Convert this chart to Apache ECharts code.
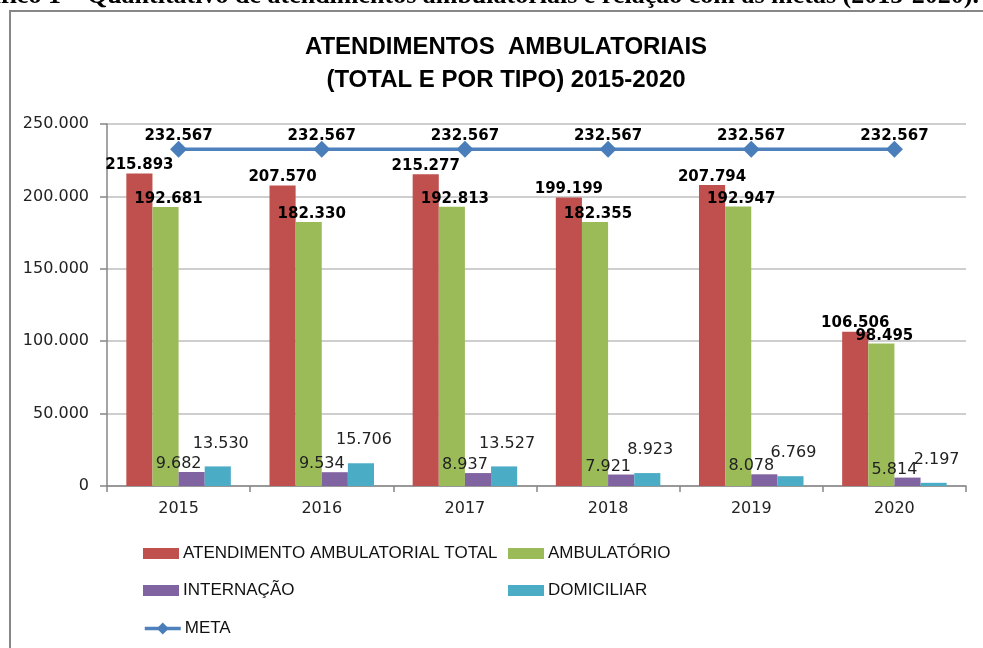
<!DOCTYPE html>
<html>
<head>
<meta charset="utf-8">
<script src="https://cdn.jsdelivr.net/npm/echarts@6/dist/echarts.min.js"></script>
<style>
html,body{margin:0;padding:0;background:#fff;}
#chart{width:983px;height:648px;}
</style>
</head>
<body>
<div id="chart"></div>
<script>
const categories = ['2015', '2016', '2017', '2018', '2019', '2020'];
const totalValues = [215893, 207570, 215277, 199199, 207794, 106506];
const ambulatorioValues = [192681, 182330, 192813, 182355, 192947, 98495];
const internacaoValues = [9682, 9534, 8937, 7921, 8078, 5814];
const domiciliarValues = [13530, 15706, 13527, 8923, 6769, 2197];
const metaValues = [232567, 232567, 232567, 232567, 232567, 232567];
const seriesNames = ['ATENDIMENTO AMBULATORIAL TOTAL', 'AMBULATÓRIO', 'INTERNAÇÃO', 'DOMICILIAR', 'META'];
const titleText = 'ATENDIMENTOS  AMBULATORIAIS\n(TOTAL E POR TIPO) 2015-2020';
const captionText = 'Gráfico 1 – Quantitativo de atendimentos ambulatoriais e relação com as metas (2015-2020).';

function fmt(v) {
  return String(Math.round(v)).replace(/\B(?=(\d{3})+(?!\d))/g, '.');
}

const numFont = 'DejaVu Sans';
const chart = echarts.init(document.getElementById('chart'), null, {renderer: 'canvas'});

function legendAt(name, left, top) {
  const isMeta = name === 'META';
  const lg = {
    data: [name], left: left, top: isMeta ? top + 1 : top, padding: 0,
    itemWidth: 36, itemHeight: isMeta ? 15 : 11, itemGap: 0,
    textStyle: {fontFamily: 'Liberation Sans', fontSize: 17, color: '#111', padding: [0, 0, 0, -1]}
  };
  if (isMeta) {
    lg.lineStyle = {width: 3.5};
  } else {
    lg.icon = 'rect';
  }
  return lg;
}

const option = {
  animation: false,
  backgroundColor: '#fff',
  title: {
    text: titleText,
    left: 501, top: 26, textAlign: 'center',
    textStyle: {fontFamily: 'Liberation Sans', fontWeight: 'bold', fontSize: 24, lineHeight: 33, color: '#000'}
  },
  graphic: [
    {type: 'rect', z: -1, shape: {x: 10, y: 11, width: 1000, height: 700}, style: {fill: 'none', stroke: '#878787', lineWidth: 2}},
    {type: 'text', x: 979, y: -4, style: {text: captionText, font: 'bold 26px "Liberation Serif"', fill: '#000', align: 'right', verticalAlign: 'middle'}}
  ],
  legend: [
    legendAt(seriesNames[0], 143, 545),
    legendAt(seriesNames[1], 508, 545),
    legendAt(seriesNames[2], 143, 582),
    legendAt(seriesNames[3], 508, 582),
    legendAt(seriesNames[4], 143, 619)
  ],
  grid: {left: 107, right: 17, top: 124, bottom: 162},
  xAxis: {
    type: 'category', data: categories,
    axisLine: {lineStyle: {color: '#868686', width: 1.5}},
    axisTick: {show: true, length: 6, lineStyle: {color: '#868686', width: 1.5}},
    axisLabel: {fontFamily: numFont, fontSize: 16, color: '#222', margin: 15}
  },
  yAxis: {
    type: 'value', min: 0, max: 250000, interval: 50000,
    axisLine: {show: true, lineStyle: {color: '#868686', width: 1.5}},
    axisTick: {show: true, length: 7, lineStyle: {color: '#868686', width: 1.5}},
    splitLine: {lineStyle: {color: '#BEBEBE', width: 1.5}},
    axisLabel: {fontFamily: numFont, fontSize: 16, color: '#222', margin: 18, formatter: fmt}
  },
  series: [
    {
      name: seriesNames[0], type: 'bar', data: totalValues, barGap: '0%', barCategoryGap: '27%',
      itemStyle: {color: '#C0504D'},
      label: {show: true, position: 'top', distance: 1, fontFamily: numFont, fontWeight: 'bold', fontSize: 15, color: '#000', formatter: p => fmt(p.value)}
    },
    {
      name: seriesNames[1], type: 'bar', data: ambulatorioValues,
      itemStyle: {color: '#9BBB59'},
      label: {show: true, position: 'top', distance: 0, offset: [3, 0], fontFamily: numFont, fontWeight: 'bold', fontSize: 15, color: '#000', formatter: p => fmt(p.value)}
    },
    {
      name: seriesNames[2], type: 'bar', data: internacaoValues,
      itemStyle: {color: '#8064A2'},
      label: {show: true, position: 'top', distance: 0, offset: [-13, 0], fontFamily: numFont, fontSize: 16, color: '#222', formatter: p => fmt(p.value)}
    },
    {
      name: seriesNames[3], type: 'bar', data: domiciliarValues,
      itemStyle: {color: '#4BACC6'},
      label: {show: true, position: 'top', distance: 15, offset: [3, 0], fontFamily: numFont, fontSize: 16, color: '#222', formatter: p => fmt(p.value)}
    },
    {
      name: seriesNames[4], type: 'line', data: metaValues,
      symbol: 'diamond', symbolSize: 17,
      lineStyle: {color: '#4F81BD', width: 3.5},
      itemStyle: {color: '#4A7EBB'},
      label: {show: true, position: 'top', distance: -3, fontFamily: numFont, fontWeight: 'bold', fontSize: 15, color: '#000', formatter: p => fmt(p.value)}
    }
  ]
};
chart.setOption(option);
</script>
</body>
</html>
